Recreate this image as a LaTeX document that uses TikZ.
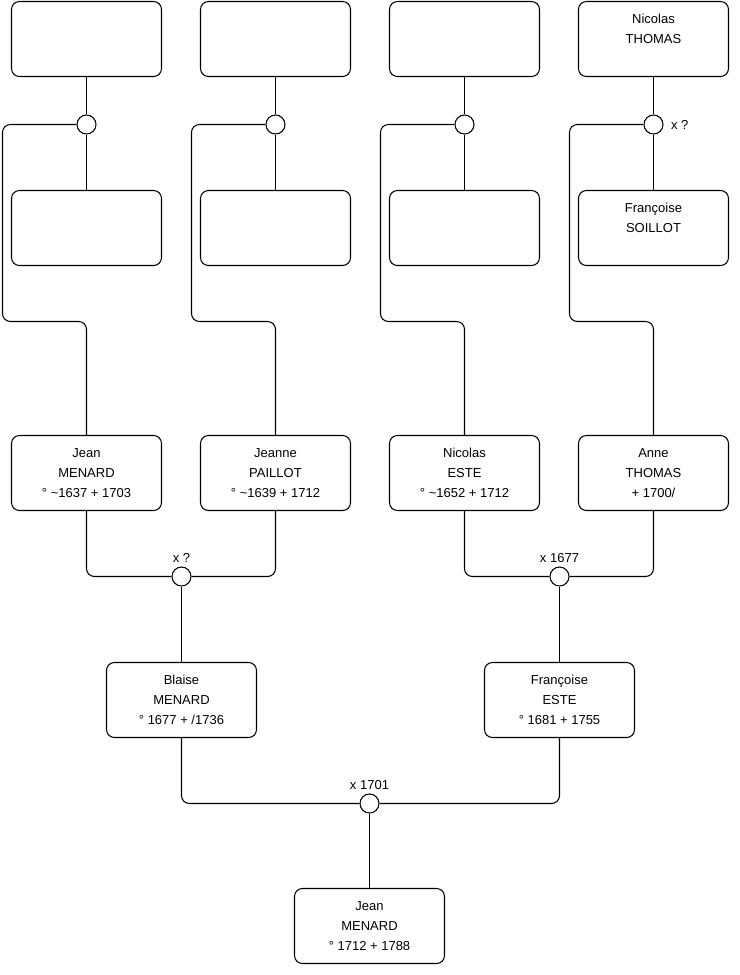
\documentclass[tikz,border=0pt]{standalone}
\usepackage{fontspec}
\setmainfont{Liberation Sans}
\usetikzlibrary{positioning}

\begin{document}
\begin{tikzpicture}[x=0.02cm, y=-0.02cm, line width=0.6pt,
  person/.style={draw, fill=white, rounded corners=4.5pt, minimum width=3cm,
                 minimum height=1.5cm, align=center,
                 font=\fontsize{7.4}{11.3}\selectfont},
  union/.style={draw, fill=white, circle, minimum size=0.38cm, inner sep=0pt},
  link/.style={rounded corners=4.5pt},
  lbl/.style={font=\fontsize{7.4}{8}\selectfont, inner sep=1pt}
]
\useasboundingbox (-0.5,-0.5) rectangle (739.5,974.5);

% Top generation (parents of row 3)
\node[person] (jean_f)  at (86, 38.5) {};
\node[person] (jean_m)  at (86, 227.5) {};
\node[person] (jeanne_f) at (275, 38.5) {};
\node[person] (jeanne_m) at (275, 227.5) {};
\node[person] (nicolas_f) at (464, 38.5) {};
\node[person] (nicolas_m) at (464, 227.5) {};
\node[person] (anne_f)  at (653, 38.5) {Nicolas\\THOMAS\\\mbox{}};
\node[person] (anne_m)  at (653, 227.5) {Françoise\\SOILLOT\\\mbox{}};

% Unions (top)
\node[union] (u_jean)    at (86, 124) {};
\node[union] (u_jeanne)  at (275, 124) {};
\node[union] (u_nicolas) at (464, 124) {};
\node[union] (u_anne)    at (653, 124) {};
\node[lbl, right=3pt of u_anne] {x ?};

% Grand-parents
\node[person] (jean_s)  at (86, 472.5) {Jean\\MENARD\\° \textasciitilde1637 + 1703};
\node[person] (jeanne)  at (275, 472.5) {Jeanne\\PAILLOT\\° \textasciitilde1639 + 1712};
\node[person] (nicolas) at (464, 472.5) {Nicolas\\ESTE\\° \textasciitilde1652 + 1712};
\node[person] (anne)    at (653, 472.5) {Anne\\THOMAS\\+ 1700/};

\node[union] (u_blaise) at (181, 576) {};
\node[lbl, above=1pt of u_blaise] {x ?};
\node[union] (u_francoise) at (559, 576) {};
\node[lbl, above=1pt of u_francoise] {x 1677};

% Parents
\node[person] (blaise)    at (181, 699.5) {Blaise\\MENARD\\° 1677 + /1736};
\node[person] (francoise) at (559, 699.5) {Françoise\\ESTE\\° 1681 + 1755};

\node[union] (u_jean_j) at (369, 803) {};
\node[lbl, above=1pt of u_jean_j] {x 1701};

% Subject
\node[person] (jean_j) at (369, 925.5) {Jean\\MENARD\\° 1712 + 1788};

% Links top generation
\draw (jean_f.south) -- (u_jean.north) (u_jean.south) -- (jean_m.north);
\draw (jeanne_f.south) -- (u_jeanne.north) (u_jeanne.south) -- (jeanne_m.north);
\draw (nicolas_f.south) -- (u_nicolas.north) (u_nicolas.south) -- (nicolas_m.north);
\draw (anne_f.south) -- (u_anne.north) (u_anne.south) -- (anne_m.north);

\draw[link] (u_jean.west) -| (2, 321) -| (jean_s.north);
\draw[link] (u_jeanne.west) -| (191, 321) -| (jeanne.north);
\draw[link] (u_nicolas.west) -| (380, 321) -| (nicolas.north);
\draw[link] (u_anne.west) -| (569, 321) -| (anne.north);

% Links to parents
\draw[link] (jean_s.south) |- (u_blaise.west);
\draw[link] (jeanne.south) |- (u_blaise.east);
\draw (u_blaise.south) -- (blaise.north);
\draw[link] (nicolas.south) |- (u_francoise.west);
\draw[link] (anne.south) |- (u_francoise.east);
\draw (u_francoise.south) -- (francoise.north);

% Links to subject
\draw[link] (blaise.south) |- (u_jean_j.west);
\draw[link] (francoise.south) |- (u_jean_j.east);
\draw (u_jean_j.south) -- (jean_j.north);

\end{tikzpicture}
\end{document}
